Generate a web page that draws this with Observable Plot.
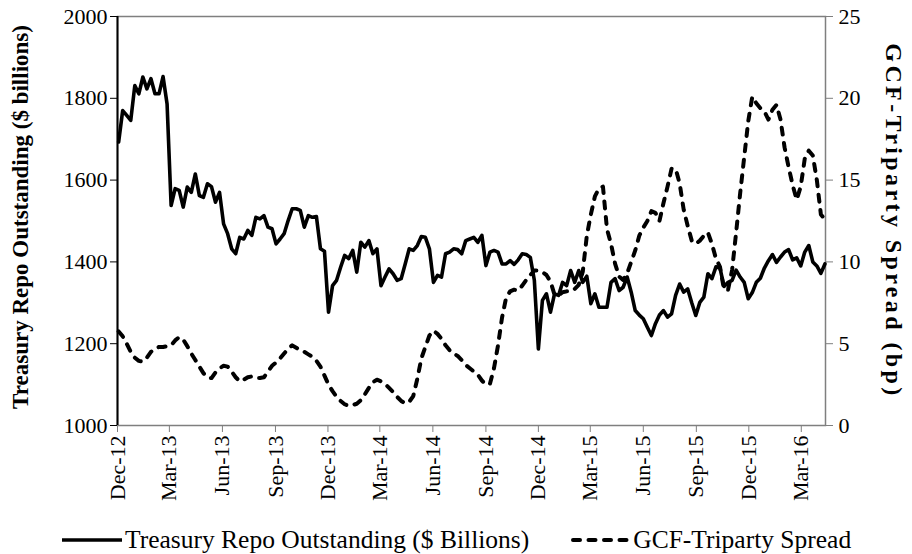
<!DOCTYPE html>
<html>
<head>
<meta charset="utf-8">
<script src="https://cdn.jsdelivr.net/npm/d3@7"></script>
<script src="https://cdn.jsdelivr.net/npm/@observablehq/plot@0.6"></script>
<style>
  body { margin: 0; background: #fff; }
  #chart { width: 912px; }
  .legend { width: 912px; height: 28px; padding-top: 6px; display: flex; align-items: center;
            font-family: 'Liberation Serif', 'Times New Roman', serif; font-size: 25.5px; color: #000;
            box-sizing: content-box; }
  .legend svg { display: block; }
</style>
</head>
<body>
<div id="chart"></div>
<script>
// ---- data (weekly observations, first week starting 2012-12-03) ----
const startDate = "2012-12-03";

// Treasury repo outstanding, $ billions (left axis)
const repoOutstanding = [
  1693,1770,1758,1746,1831,1811,1852,1823,1848,1811,
  1811,1853,1786,1538,1579,1575,1534,1583,1570,1615,
  1562,1558,1591,1584,1546,1570,1493,1469,1432,1420,
  1460,1456,1477,1465,1509,1505,1513,1485,1481,1444,
  1456,1469,1501,1530,1530,1526,1485,1513,1509,1511,
  1432,1426,1277,1342,1355,1387,1416,1408,1428,1375,
  1448,1436,1452,1420,1432,1342,1363,1383,1371,1355,
  1359,1395,1432,1428,1440,1462,1460,1432,1350,1367,
  1363,1420,1424,1432,1430,1420,1452,1456,1460,1448,
  1465,1391,1424,1428,1424,1395,1395,1403,1394,1405,
  1420,1418,1411,1355,1187,1306,1322,1277,1322,1318,
  1350,1342,1379,1350,1379,1350,1365,1298,1322,1289,
  1289,1289,1350,1359,1330,1338,1363,1326,1281,1270,
  1261,1240,1220,1249,1270,1281,1265,1273,1318,1346,
  1326,1334,1300,1269,1301,1314,1371,1359,1388,1385,
  1340,1350,1355,1380,1363,1350,1310,1325,1350,1360,
  1385,1403,1418,1399,1412,1424,1430,1405,1410,1390,
  1424,1440,1400,1390,1372,1395
];

// GCF - triparty spread, basis points (right axis)
const gcfTripartySpread = [
  5.75,5.45,5.0,4.5,4.15,3.95,3.9,4.15,4.5,4.7,
  4.8,4.8,4.85,4.9,5.2,5.4,5.25,4.85,4.4,4.0,
  3.6,3.2,2.95,2.9,3.25,3.5,3.65,3.6,3.3,2.95,
  2.7,2.8,2.95,3.0,2.9,2.9,2.95,3.3,3.65,3.85,
  4.1,4.4,4.7,4.9,4.75,4.6,4.5,4.35,4.2,3.95,
  3.6,3.05,2.5,2.1,1.75,1.5,1.3,1.2,1.25,1.33,
  1.55,1.9,2.3,2.65,2.8,2.7,2.55,2.3,2.05,1.75,
  1.5,1.35,1.45,1.8,2.85,4.1,4.8,5.5,5.8,5.6,
  5.3,4.9,4.6,4.4,4.25,4.0,3.7,3.5,3.3,3.1,
  2.75,2.5,2.55,3.5,4.9,6.6,7.8,8.2,8.3,8.25,
  8.55,8.9,9.2,9.47,9.47,9.37,9.2,8.8,8.0,7.95,
  8.15,8.2,8.2,8.35,8.6,9.4,11.6,12.9,14.0,14.5,
  14.6,12.0,11.1,9.9,9.1,8.9,9.3,10.0,10.7,11.6,
  12.1,12.5,13.1,13.0,12.5,13.6,14.6,15.7,15.7,14.8,
  13.2,12.2,11.3,11.1,11.3,11.6,11.8,11.1,10.2,9.7,
  8.3,8.3,9.5,11.8,14.2,16.4,18.6,20.1,19.7,19.4,
  19.2,18.7,19.3,19.6,18.7,17.0,15.8,14.7,13.8,14.6,
  16.3,16.8,16.5,15.0,12.9,12.6
];

const xTickDates = ["2012-12-01","2013-03-01","2013-06-01","2013-09-01","2013-12-01","2014-03-01",
  "2014-06-01","2014-09-01","2014-12-01","2015-03-01","2015-06-01","2015-09-01","2015-12-01","2016-03-01"];
const xDomain = ["2012-12-01", "2016-04-12"];
const leftTicks = [1000, 1200, 1400, 1600, 1800, 2000];
const rightTicks = [0, 5, 10, 15, 20, 25];
const leftTitle = "Treasury Repo Outstanding ($ billions)";
const rightTitle = "GCF-Triparty Spread (bp)";
const legendLabels = ["Treasury Repo Outstanding ($ Billions)", "GCF-Triparty Spread"];

// ---- build table ----
const start = new Date(startDate);
const rows = repoOutstanding.map((v, i) => ({
  date: d3.utcDay.offset(start, 7 * i),
  repo: v,
  spread: gcfTripartySpread[i]
}));
// map right-axis values (0–25 bp) onto left scale (1000–2000)
const toLeft = s => 1000 + s * 40;
const fromLeft = v => String(Math.round((v - 1000) / 40));

const fmt = d3.utcFormat("%b-%y");
const serif = "'Liberation Serif', 'Times New Roman', serif";

const chart = Plot.plot({
  width: 912,
  height: 520,
  marginLeft: 117,
  marginRight: 87,
  marginTop: 16,
  marginBottom: 95,
  style: { fontFamily: serif, fontSize: "22px", color: "#000", background: "#fff", overflow: "visible" },
  x: { type: "utc", domain: xDomain.map(d => new Date(d)) },
  y: { domain: [1000, 2000] },
  marks: [
    Plot.frame({ stroke: "#7f7f7f", strokeWidth: 1.5 }),
    Plot.axisX({
      ticks: xTickDates.map(d => new Date(d)),
      tickFormat: fmt,
      tickRotate: -90,
      tickSize: 7,
      tickPadding: 3,
      stroke: "#7f7f7f",
      fontFamily: serif,
      label: null
    }),
    Plot.axisY({ ticks: leftTicks, tickFormat: d => String(d), tickSize: 7, tickPadding: 3,
      stroke: "#000", fontFamily: serif, label: null }),
    Plot.axisY({
      anchor: "right",
      ticks: rightTicks.map(toLeft),
      tickFormat: fromLeft,
      tickSize: 7,
      tickPadding: 6,
      stroke: "#7f7f7f",
      fontFamily: serif,
      label: null
    }),
    Plot.ruleX([new Date(xDomain[0])], { stroke: "#000", strokeWidth: 2 }),
    Plot.line(rows, { x: "date", y: "repo", stroke: "#000", strokeWidth: 3.6, strokeLinejoin: "round" }),
    Plot.line(rows, {
      x: "date", y: d => toLeft(d.spread), stroke: "#000", strokeWidth: 4,
      strokeDasharray: "7,8.5", strokeLinecap: "round", strokeLinejoin: "round"
    }),
    Plot.text([leftTitle], {
      text: d => d, frameAnchor: "left", dx: -97, dy: -4, rotate: -90, textAnchor: "middle",
      fontWeight: "bold", fontSize: 23, fill: "#000", fontFamily: serif
    }),
    Plot.text([rightTitle], {
      text: d => d, frameAnchor: "right", dx: 68, dy: 0, rotate: 90, textAnchor: "middle",
      fontWeight: "bold", fontSize: 24, fill: "#000", fontFamily: serif,
      className: "right-title"
    })
  ]
});
// widen the right-hand title to match the reference's letter spacing
d3.select(chart).selectAll(".right-title text").style("letter-spacing", "3.4px");
document.getElementById("chart").appendChild(chart);

// ---- legend ----
const legend = d3.select("body").append("div").attr("class", "legend");
legend.append("div").style("width", "62px");
const s1 = legend.append("svg").attr("width", 60).attr("height", 10);
s1.append("line").attr("x1", 0).attr("x2", 60).attr("y1", 5).attr("y2", 5)
  .attr("stroke", "#000").attr("stroke-width", 3.6);
legend.append("span").style("margin-left", "3px").text(legendLabels[0]);
legend.append("div").style("width", "42px");
const s2 = legend.append("svg").attr("width", 58).attr("height", 10);
s2.append("line").attr("x1", 2).attr("x2", 56).attr("y1", 5).attr("y2", 5)
  .attr("stroke", "#000").attr("stroke-width", 4)
  .attr("stroke-dasharray", "7,8.5").attr("stroke-linecap", "round");
legend.append("span").style("margin-left", "4px").text(legendLabels[1]);
</script>
</body>
</html>
